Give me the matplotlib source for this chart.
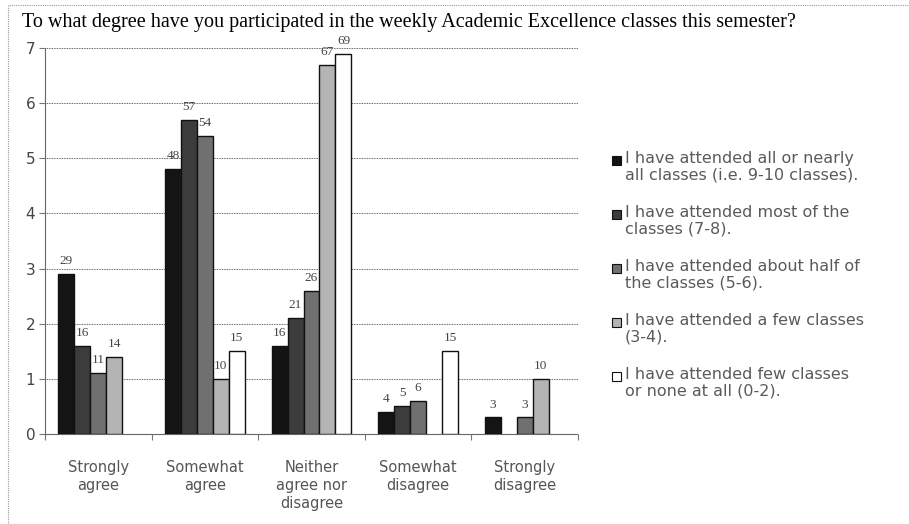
import matplotlib
matplotlib.use("Agg")
import matplotlib.pyplot as plt
from matplotlib.patches import Rectangle
from matplotlib.lines import Line2D
import numpy as np

categories = ["Strongly\nagree", "Somewhat\nagree", "Neither\nagree nor\ndisagree",
              "Somewhat\ndisagree", "Strongly\ndisagree"]
series_names = [
    "I have attended all or nearly\nall classes (i.e. 9-10 classes).",
    "I have attended most of the\nclasses (7-8).",
    "I have attended about half of\nthe classes (5-6).",
    "I have attended a few classes\n(3-4).",
    "I have attended few classes\nor none at all (0-2).",
]
# bar heights on the 0-7 axis, None = no bar
s1 = [2.9, 4.8, 1.6, 0.4, 0.3]
s2 = [1.6, 5.7, 2.1, 0.5, None]
s3 = [1.1, 5.4, 2.6, 0.6, 0.3]
s4 = [1.4, 1.0, 6.7, None, 1.0]
s5 = [None, 1.5, 6.9, 1.5, None]
# data labels shown above the bars
l1 = ["29", "48", "16", "4", "3"]
l2 = ["16", "57", "21", "5", ""]
l3 = ["11", "54", "26", "6", "3"]
l4 = ["14", "10", "67", "", "10"]
l5 = ["", "15", "69", "15", ""]

series = [s1, s2, s3, s4, s5]
labels = [l1, l2, l3, l4, l5]
colors = ["#141414", "#3c3c3c", "#707070", "#b4b4b4", "#ffffff"]

fig = plt.figure(figsize=(9.09, 5.24), dpi=100)
ax = fig.add_axes([45 / 909, 1 - 434 / 524, (578 - 45) / 909, (434 - 48) / 524])

x = np.arange(len(categories))
w = 0.15
for i, (vals, labs) in enumerate(zip(series, labels)):
    h = np.array([np.nan if v is None else v for v in vals], dtype=float)
    bars = ax.bar(x + (i - 2) * w, h, w, color=colors[i], edgecolor="#111111",
                  linewidth=1.0, zorder=3)
    ax.bar_label(bars, labels=labs, padding=5, fontsize=9.5, color="#444444",
                 family="Liberation Serif")

ax.set_xlim(-0.5, len(categories) - 0.5)
ax.set_ylim(0, 7)
ax.set_yticks(range(8))
ax.grid(axis="y", color="#333333", linestyle=(0, (1, 1)), linewidth=0.6, zorder=0)

ax.set_xticks(np.arange(len(categories) + 1) - 0.5, minor=False)
ax.set_xticklabels([])
ax.set_xticks(x, minor=True)
ax.set_xticklabels(categories, minor=True, fontsize=10.5, color="#555555",
                   family="DejaVu Sans", linespacing=1.25)
ax.tick_params(axis="x", which="minor", length=0, pad=19)
ax.tick_params(axis="x", which="major", length=4, color="#777777", direction="out")
ax.tick_params(axis="y", length=4, color="#777777", labelsize=11,
               labelcolor="#444444", pad=3)
for lab in ax.get_yticklabels():
    lab.set_family("DejaVu Sans")

for s in ["top", "right"]:
    ax.spines[s].set_visible(False)
for s in ["left", "bottom"]:
    ax.spines[s].set_linestyle((0, (1, 1)))
    ax.spines[s].set_color("#666666")
    ax.spines[s].set_linewidth(0.8)

fig.text(22 / 909, 1 - 22 / 524, "To what degree have you participated in the weekly "
         "Academic Excellence classes this semester?", fontsize=14.5,
         family="Liberation Serif", va="center", ha="left")

# legend
y0 = 160
for i, name in enumerate(series_names):
    yt = y0 + i * 54
    fig.patches.append(Rectangle((612 / 909, 1 - (yt + 5) / 524), 9 / 909, 9 / 524,
                                 transform=fig.transFigure, facecolor=colors[i],
                                 edgecolor="#111111", linewidth=0.8))
    fig.text(625 / 909, 1 - (yt - 9) / 524, name, fontsize=11.5, family="DejaVu Sans",
             color="#5a5a5a", va="top", ha="left", linespacing=1.15)

# outer dotted frame (left and top edges)
fig.lines.append(Line2D([8 / 909, 8 / 909, 1], [0, 1 - 5 / 524, 1 - 5 / 524],
                        transform=fig.transFigure, color="#999999",
                        linestyle=(0, (1, 1)), linewidth=0.8))

fig.savefig("out.png", dpi=100)
